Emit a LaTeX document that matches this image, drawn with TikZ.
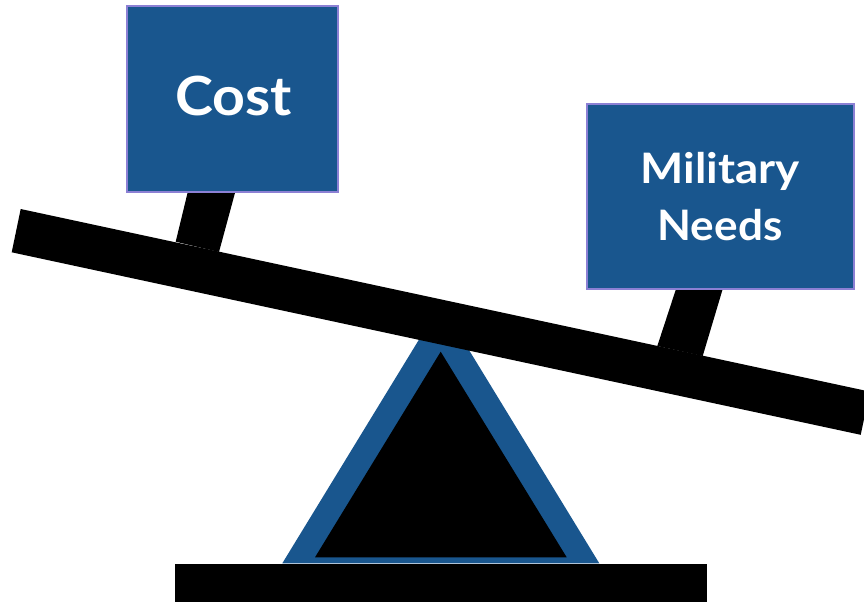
\documentclass[tikz,border=0pt]{standalone}
\usepackage{fontspec}
\setmainfont{Lato}
\definecolor{boxblue}{RGB}{25,86,142}
\definecolor{boxedge}{RGB}{140,128,212}
\begin{document}
\begin{tikzpicture}[x=1pt,y=-1pt,
  box/.style={draw=boxedge,line width=1.8pt,fill=boxblue,inner sep=0pt},
  lbl/.style={text=white,font=\bfseries,inner sep=0pt,anchor=base}]
\useasboundingbox (0,0) rectangle (864,603);
% fulcrum
\fill[boxblue] (282.3,563.3) -- (440.8,303.9) -- (599.3,563.3) -- cycle;
\fill[black] (315,557.3) -- (440.7,351.7) -- (566.7,557.3) -- cycle;
% base bar
\fill[black] (175,564.3) rectangle (707.3,601.7);
% stems
\fill[black] (188,191) -- (235.5,191) -- (219,252) -- (175.7,241.7) -- cycle;
\fill[black] (676,289) -- (722.7,289) -- (702.7,356) -- (657.3,346) -- cycle;
% beam
\fill[black] (20.7,209) -- (869.8,391.6) -- (860.7,434.8) -- (11.7,252.3) -- cycle;
% boxes
\node[box,minimum width=211pt,minimum height=186.6pt] (cost) at (232.8,99) {};
\node[box,minimum width=267.3pt,minimum height=185pt] (needs) at (720.3,196.5) {};
\node[lbl,font=\bfseries\fontsize{54}{60}\selectfont] (costtxt) at (233.3,115) {\scalebox{1.06}[1]{Cost}};
\node[lbl,font=\bfseries\fontsize{42}{48}\selectfont] (miltxt) at (720,183.3) {\scalebox{1.09}[1]{Military}};
\node[lbl,font=\bfseries\fontsize{42}{48}\selectfont] (needtxt) at (720,240) {\scalebox{1.05}[1]{Needs}};
\end{tikzpicture}
\end{document}
